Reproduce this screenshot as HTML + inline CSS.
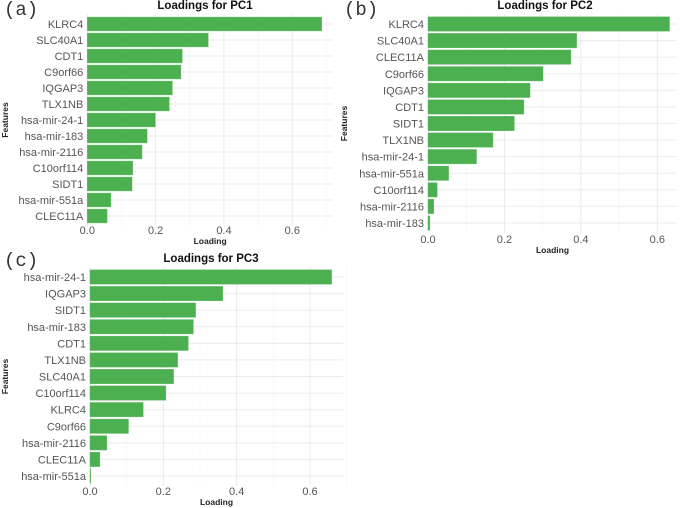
<!DOCTYPE html>
<html><head><meta charset="utf-8"><style>
body{margin:0;background:#fff;}
svg{display:block;font-family:"Liberation Sans",sans-serif;}
</style></head><body>
<svg id="fig" width="685" height="508" viewBox="0 0 685 508"></svg>
<script>
const featuresA = ["KLRC4","SLC40A1","CDT1","C9orf66","IQGAP3","TLX1NB","hsa-mir-24-1","hsa-mir-183","hsa-mir-2116","C10orf114","SIDT1","hsa-mir-551a","CLEC11A"];
const valuesA = [0.686,0.354,0.278,0.274,0.249,0.240,0.199,0.175,0.160,0.133,0.131,0.069,0.058];
const featuresB = ["KLRC4","SLC40A1","CLEC11A","C9orf66","IQGAP3","CDT1","SIDT1","TLX1NB","hsa-mir-24-1","hsa-mir-551a","C10orf114","hsa-mir-2116","hsa-mir-183"];
const valuesB = [0.632,0.389,0.374,0.301,0.267,0.251,0.226,0.170,0.127,0.054,0.024,0.015,0.005];
const featuresC = ["hsa-mir-24-1","IQGAP3","SIDT1","hsa-mir-183","CDT1","TLX1NB","SLC40A1","C10orf114","KLRC4","C9orf66","hsa-mir-2116","CLEC11A","hsa-mir-551a"];
const valuesC = [0.659,0.362,0.288,0.282,0.268,0.239,0.228,0.207,0.145,0.105,0.046,0.027,0.002];
const xTicks = [0,0.2,0.4,0.6];
const xTickLabels = ["0.0","0.2","0.4","0.6"];

const NS="http://www.w3.org/2000/svg";
const svg=document.getElementById('fig');
function mk(tag,attrs,parent){const e=document.createElementNS(NS,tag);for(const k in attrs)e.setAttribute(k,attrs[k]);(parent||svg).appendChild(e);return e;}

function panel(cfg, feats, vals){
  const g=mk('g',{});
  
  
  const xs=v=>cfg.x0+(v/0.6)*(cfg.x06-cfg.x0);
  const n=feats.length;
  const step=(cfg.yLast-cfg.yFirst)/(n-1);
  const ys=i=>cfg.yFirst+i*step;
  const top=cfg.yFirst-step*0.6, bot=cfg.yLast+step*0.6;
  for(let v=0.1;v<=0.7;v+=0.2){const l=mk('line',{x1:xs(v),x2:xs(v),y1:top,y2:bot,stroke:'#f3f3f3','stroke-width':0.6},g);
    }
  xTicks.forEach(v=>{const l=mk('line',{x1:xs(v),x2:xs(v),y1:top,y2:bot,stroke:'#ebebeb','stroke-width':1},g);
    });
  feats.forEach((f,i)=>{const l=mk('line',{x1:cfg.x0-3,x2:cfg.xR,y1:ys(i),y2:ys(i),stroke:'#ebebeb','stroke-width':1},g);
    });
  feats.forEach((f,i)=>{
    const h=step*0.87;
    const r=mk('rect',{x:xs(0),y:ys(i)-h/2,width:Math.max(xs(vals[i])-xs(0),0.8),height:h,fill:'#4CAF50',stroke:'#66bb6a','stroke-width':0.4},g);
    
    
    const t=mk('text',{x:cfg.x0-4,y:ys(i)+4,'text-anchor':'end','font-size':11,fill:'#555'},g);
    t.textContent=f;
    
    
  });
  xTicks.forEach((v,i)=>{const t=mk('text',{x:xs(v),y:cfg.tickY,'text-anchor':'middle','font-size':11,fill:'#555'},g);
    t.textContent=xTickLabels[i];
    });
  const xt=mk('text',{x:(cfg.x0+cfg.xR)/2,y:cfg.axisY,'text-anchor':'middle','font-size':8.5,'font-weight':'bold',fill:'#222'},g);
  xt.textContent='Loading';
  const yt=mk('text',{x:0,y:0,'text-anchor':'middle','font-size':8.5,'font-weight':'bold',fill:'#222',transform:`translate(${cfg.featX},${(top+bot)/2}) rotate(-90)`},g);
  yt.textContent='Features';
  const tt=mk('text',{x:cfg.titleX,y:cfg.titleY,'text-anchor':'middle','font-size':11.5,'font-weight':'bold',fill:'#111'},g);
  tt.textContent=cfg.title;
  const pl=mk('text',{x:cfg.lx,y:cfg.ly,'font-size':19,fill:'#333','font-family':'Liberation Mono, monospace'},g);
  pl.textContent=cfg.label;
}
panel({id:'a',x0:87.3,x06:292.3,xR:333,yFirst:24,yLast:216,tickY:234,axisY:244,featX:8,titleX:205,titleY:9,title:'Loadings for PC1',label:'(a)',lx:4,ly:15},featuresA,valuesA);
panel({id:'b',x0:428,x06:657.3,xR:677,yFirst:24,yLast:223,tickY:243,axisY:253,featX:347,titleX:545,titleY:9,title:'Loadings for PC2',label:'(b)',lx:344,ly:15},featuresB,valuesB);
panel({id:'c',x0:90,x06:310,xR:343,yFirst:277,yLast:476,tickY:495,axisY:505,featX:8,titleX:211,titleY:262,title:'Loadings for PC3',label:'(c)',lx:4,ly:266},featuresC,valuesC);
</script>
</body></html>
